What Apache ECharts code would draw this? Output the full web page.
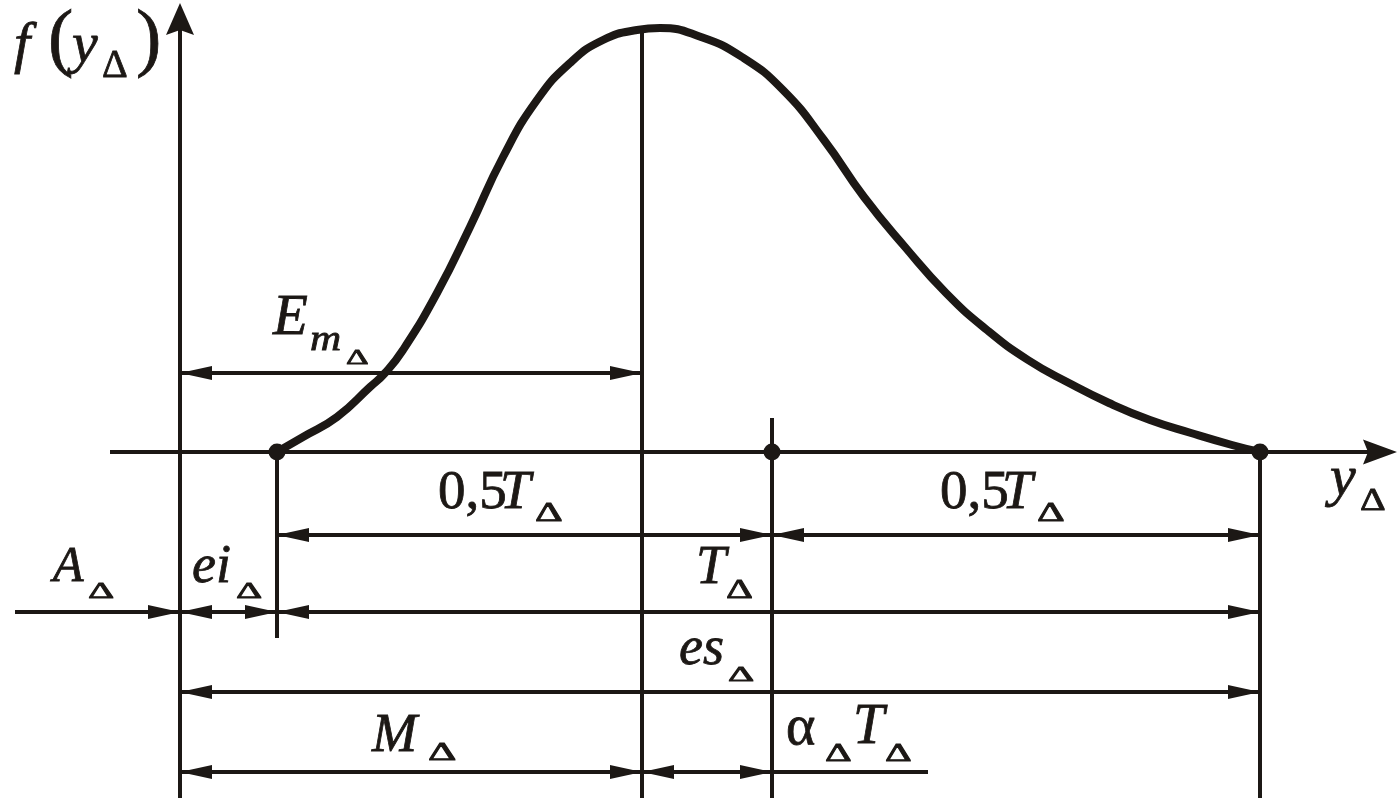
<!DOCTYPE html>
<html><head><meta charset="utf-8">
<script src="https://cdn.jsdelivr.net/npm/echarts@6/dist/echarts.min.js"></script>
<style>html,body{margin:0;padding:0;background:#fff}#c{width:1398px;height:798px}</style>
</head><body><div id="c"></div>
<script>
// ---- data (abstract units: y-axis at x=0, horizontal axis at f=0) ----
const curveX = [97,123,157,190,205,223,257,290,323,357,390,423,457,480,521,562,603,644,684,725,766,807,848,889,929,970,1011,1052,1080];
const curveY = [0,15,35,65,79,102,159,225,295,352,389,412,422,424,415,395,362,312,255,205,159,122,92,69,49,32,19,7,0];
const pointX = [97,592,1080];          // ei, tolerance centre, es
const pointY = [0,0,0];
// vertical extension lines: x, from, to
const extX    = [97,462,592,1080];
const extFrom = [-186,-346,-346,-346];
const extTo   = [0,424,34,0];
// dimension lines: start, end, level, arrow at start, arrow at end
const dimStart = [0,97,592,-165,0,97,0,0,462,592];
const dimEnd   = [462,592,1080,0,97,1080,1080,462,592,748];
const dimLevel = [79,-83,-83,-160,-160,-160,-240,-320,-320,-320];
const dimArrS  = [1,1,1,0,1,1,1,1,1,0];
const dimArrE  = [1,1,1,1,1,1,1,1,1,0];
// axes: x1,y1,x2,y2
const axisX1 = [-70,0], axisY1 = [0,-346], axisX2 = [1217,0], axisY2 = [0,449];

const INK = '#1c1815';
const chart = echarts.init(document.getElementById('c'), null, {renderer:'canvas'});

function zip(){ const a=arguments; return a[0].map((_,i)=>Array.prototype.map.call(a,arr=>arr[i])); }

function tri(tip, dx, dy, L, W){
  const bx = tip[0]-dx*L, by = tip[1]-dy*L;
  const nx = -dy, ny = dx;
  return {type:'polygon', shape:{points:[[tip[0],tip[1]],[bx+nx*W,by+ny*W],[bx-nx*W,by-ny*W]]}, style:{fill:INK}};
}
function dart(tip, dx, dy, L, W, N){
  const bx = tip[0]-dx*L, by = tip[1]-dy*L;
  const mx = tip[0]-dx*(L-N), my = tip[1]-dy*(L-N);
  const nx = -dy, ny = dx;
  return {type:'polygon', shape:{points:[[tip[0],tip[1]],[bx+nx*W,by+ny*W],[mx,my],[bx-nx*W,by-ny*W]]}, style:{fill:INK}};
}

function T(text, x, base, size, italic, sx){
  return {type:'text', x:x, y:base - 0.3375*size, scaleX: sx||1, z:100,
    style:{text:text, x:0, y:0, fill:INK, stroke:INK, lineWidth:0.8, fontFamily:'Liberation Serif', fontSize:size,
      fontStyle: italic?'italic':'normal', fontWeight:'normal', align:'left', verticalAlign:'middle'}};
}
const labels = [
  T('f',14,66,58,true), T('(',48,68,76,false), T('y',72,66,58,true), T('Δ',102,80,40,false), T(')',136,68,76,false),
  T('y',1330,499,58,true), T('Δ',1360,512,32,false,1.25),
  T('E',273,338,57,true), T('m',310,353,36,true,1.2), T('Δ',346,366,22,false,1.6),
  T('0,5',438,512,55,false), T('T',500,512,55,true), T('Δ',535,523,27,false,1.6),
  T('0,5',940,512,55,false), T('T',1002,512,55,true), T('Δ',1037,523,27,false,1.6),
  T('A',53,585,50,true), T('Δ',88,600,24,false,1.7),
  T('ei',192,586,54,true), T('Δ',236,600,24,false,1.7),
  T('T',696,587,54,true), T('Δ',726,600,28,false,1.5),
  T('es',679,668,54,true), T('Δ',728,683,22,false,1.85),
  T('M',372,755,54,true), T('Δ',428,762,26,false,1.7),
  T('α',786,748,56,false), T('Δ',825,763,26,false,1.6), T('T',853,747,56,true), T('Δ',885,763,26,false,1.6)
];

chart.setOption({
  animation:false,
  backgroundColor:'#fff',
  grid:{left:0,right:0,top:0,bottom:0},
  xAxis:{type:'value',min:-180,max:1218,show:false},
  yAxis:{type:'value',min:-346,max:452,show:false},
  series:[
    { type:'custom', name:'axes', z:2, data: zip(axisX1,axisY1,axisX2,axisY2),
      renderItem(p, api){
        const a = api.coord([api.value(0),api.value(1)]), b = api.coord([api.value(2),api.value(3)]);
        const len = Math.hypot(b[0]-a[0], b[1]-a[1]); const dx=(b[0]-a[0])/len, dy=(b[1]-a[1])/len;
        const isY = Math.abs(dy) > 0.5;
        return {type:'group', children:[
          {type:'line', shape:{x1:a[0],y1:a[1],x2:b[0]-dx*10,y2:b[1]-dy*10}, style:{stroke:INK,lineWidth:4}},
          dart(b, dx, dy, isY?32:34, isY?14:12.5, 5)
        ]};
      }},
    { type:'custom', name:'extension', z:2, data: zip(extX,extFrom,extTo),
      renderItem(p, api){
        const a = api.coord([api.value(0),api.value(1)]), b = api.coord([api.value(0),api.value(2)]);
        return {type:'line', shape:{x1:a[0],y1:a[1],x2:b[0],y2:b[1]}, style:{stroke:INK,lineWidth:4}};
      }},
    { type:'custom', name:'dimensions', z:3, data: zip(dimStart,dimEnd,dimLevel,dimArrS,dimArrE),
      renderItem(p, api){
        const y = api.value(2);
        const a = api.coord([api.value(0),y]), b = api.coord([api.value(1),y]);
        const ch = [{type:'line', shape:{x1:a[0],y1:a[1],x2:b[0],y2:b[1]}, style:{stroke:INK,lineWidth:4}}];
        if (api.value(3)) ch.push(tri(a,-1,0,32,7));
        if (api.value(4)) ch.push(tri(b,1,0,32,7));
        return {type:'group', children:ch};
      }},
    { type:'line', name:'f(y)', z:5, data: zip(curveX,curveY), smooth:0.5, showSymbol:false,
      lineStyle:{color:INK,width:8,cap:'round',join:'round'}},
    { type:'scatter', name:'points', z:6, data: zip(pointX,pointY), symbolSize:17, itemStyle:{color:INK,opacity:1}}
  ],
  graphic: labels
});
</script></body></html>
